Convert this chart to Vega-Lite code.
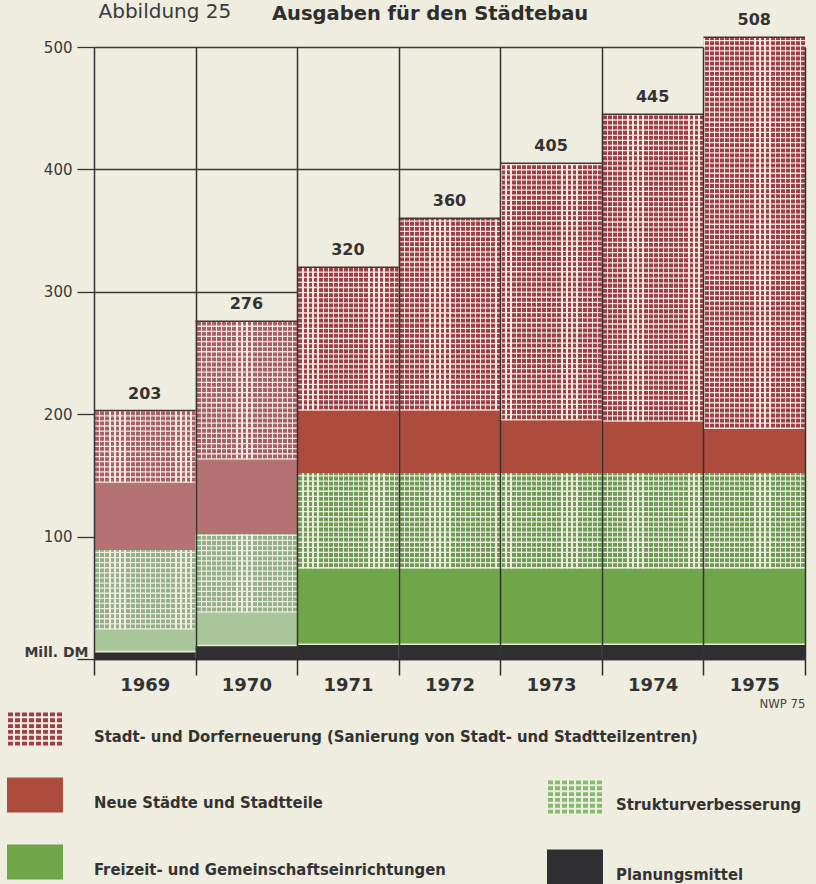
{
"$schema": "https://vega.github.io/schema/vega-lite/v6.json",
"width": 711, "height": 612,
"autosize": {"type": "none"},
"padding": {"left": 94, "top": 47, "right": 11, "bottom": 225},
"background": "#eeede0",
"config": {"view": {"stroke": null}, "font": "DejaVu Sans"},
"title": {"text": "Ausgaben für den Städtebau", "anchor": "start", "frame": "group", "dx": 178, "offset": -38, "font": "DejaVu Sans", "fontSize": 19.5, "fontWeight": "bold", "color": "#2e2e2e"},
"data": {"values": [
{"year": 1969, "cat": "Planungsmittel", "value": 6},
{"year": 1969, "cat": "Freizeit- und Gemeinschaftseinrichtungen", "value": 18},
{"year": 1969, "cat": "Strukturverbesserung", "value": 65},
{"year": 1969, "cat": "Neue Städte und Stadtteile", "value": 55},
{"year": 1969, "cat": "Stadt- und Dorferneuerung (Sanierung von Stadt- und Stadtteilzentren)", "value": 59},
{"year": 1970, "cat": "Planungsmittel", "value": 11},
{"year": 1970, "cat": "Freizeit- und Gemeinschaftseinrichtungen", "value": 27},
{"year": 1970, "cat": "Strukturverbesserung", "value": 64},
{"year": 1970, "cat": "Neue Städte und Stadtteile", "value": 61},
{"year": 1970, "cat": "Stadt- und Dorferneuerung (Sanierung von Stadt- und Stadtteilzentren)", "value": 113},
{"year": 1971, "cat": "Planungsmittel", "value": 12},
{"year": 1971, "cat": "Freizeit- und Gemeinschaftseinrichtungen", "value": 62},
{"year": 1971, "cat": "Strukturverbesserung", "value": 78},
{"year": 1971, "cat": "Neue Städte und Stadtteile", "value": 51},
{"year": 1971, "cat": "Stadt- und Dorferneuerung (Sanierung von Stadt- und Stadtteilzentren)", "value": 117},
{"year": 1972, "cat": "Planungsmittel", "value": 12},
{"year": 1972, "cat": "Freizeit- und Gemeinschaftseinrichtungen", "value": 62},
{"year": 1972, "cat": "Strukturverbesserung", "value": 78},
{"year": 1972, "cat": "Neue Städte und Stadtteile", "value": 51},
{"year": 1972, "cat": "Stadt- und Dorferneuerung (Sanierung von Stadt- und Stadtteilzentren)", "value": 157},
{"year": 1973, "cat": "Planungsmittel", "value": 12},
{"year": 1973, "cat": "Freizeit- und Gemeinschaftseinrichtungen", "value": 62},
{"year": 1973, "cat": "Strukturverbesserung", "value": 78},
{"year": 1973, "cat": "Neue Städte und Stadtteile", "value": 43},
{"year": 1973, "cat": "Stadt- und Dorferneuerung (Sanierung von Stadt- und Stadtteilzentren)", "value": 210},
{"year": 1974, "cat": "Planungsmittel", "value": 12},
{"year": 1974, "cat": "Freizeit- und Gemeinschaftseinrichtungen", "value": 62},
{"year": 1974, "cat": "Strukturverbesserung", "value": 78},
{"year": 1974, "cat": "Neue Städte und Stadtteile", "value": 42},
{"year": 1974, "cat": "Stadt- und Dorferneuerung (Sanierung von Stadt- und Stadtteilzentren)", "value": 251},
{"year": 1975, "cat": "Planungsmittel", "value": 12},
{"year": 1975, "cat": "Freizeit- und Gemeinschaftseinrichtungen", "value": 62},
{"year": 1975, "cat": "Strukturverbesserung", "value": 78},
{"year": 1975, "cat": "Neue Städte und Stadtteile", "value": 36},
{"year": 1975, "cat": "Stadt- und Dorferneuerung (Sanierung von Stadt- und Stadtteilzentren)", "value": 320}
]},
"transform": [
{"calculate": "indexof(['Planungsmittel','Freizeit- und Gemeinschaftseinrichtungen','Strukturverbesserung','Neue Städte und Stadtteile','Stadt- und Dorferneuerung (Sanierung von Stadt- und Stadtteilzentren)'], datum.cat)", "as": "order"},
{"stack": "value", "groupby": ["year"], "sort": [{"field": "order", "order": "ascending"}], "as": ["y0", "y1"]}
],
"encoding": {
"x": {"field": "year", "type": "ordinal", "scale": {"paddingInner": 0, "paddingOuter": 0},
 "axis": {"title": "NWP 75", "titleAnchor": "end", "titleAlign": "right", "titleFont": "DejaVu Sans Condensed, Liberation Sans, sans-serif", "titleFontSize": 13, "titleFontWeight": "normal", "titleColor": "#444444", "titlePadding": 3,
 "labelFont": "DejaVu Sans", "labelFontSize": 18, "labelFontWeight": "bold", "labelColor": "#333333", "labelAngle": 0, "labelPadding": 1, "labelOverlap": false,
 "tickBand": "extent", "tickSize": 16, "tickColor": "#2e2e2e", "tickWidth": 1.5,
 "grid": true, "gridColor": "#333333", "gridWidth": 1.5,
 "domain": true, "domainColor": "#2e2e30", "domainWidth": 1.5, "zindex": 1}},
"y": {"field": "y0", "type": "quantitative", "title": "Abbildung 25", "scale": {"domain": [0, 500], "nice": false},
   "axis": {"titleAngle": 0, "titleAlign": "left", "titleBaseline": "alphabetic", "titleX": 4, "titleY": -30,
    "titleFont": "DejaVu Sans", "titleFontSize": 20, "titleFontWeight": "normal", "titleColor": "#3a3a3a",
    "values": [0, 100, 200, 300, 400, 500],
    "labelExpr": "datum.value === 0 ? 'Mill. DM' : datum.label",
    "labelFont": "DejaVu Sans",
    "labelFontSize": {"condition": {"test": "datum.value === 0", "value": 14}, "value": 15},
    "labelFontWeight": {"condition": {"test": "datum.value === 0", "value": "bold"}, "value": "normal"},
    "labelBaseline": {"condition": {"test": "datum.value === 0", "value": "alphabetic"}, "value": "middle"},
    "labelPadding": {"condition": {"test": "datum.value === 0", "value": -11}, "value": 5},
    "labelOffset": {"condition": {"test": "datum.value === 0", "value": -3}, "value": 0},
    "labelColor": "#3a3a3a", "labelOverlap": false,
    "tickSize": 17, "tickColor": "#333333", "tickWidth": 1.3,
    "domain": false, "grid": true, "gridColor": "#3a3a3a", "gridWidth": 1.3, "zindex": 0}},
"y2": {"field": "y1"}
},
"layer": [
{
 "transform": [{"filter": {"field": "cat", "oneOf": ["Stadt- und Dorferneuerung (Sanierung von Stadt- und Stadtteilzentren)", "Neue Städte und Stadtteile", "Freizeit- und Gemeinschaftseinrichtungen"]}}],
 "mark": {"type": "bar"},
 "encoding": {
  "fill": {
   "condition": [
    {"test": "datum.year < 1971 && datum.cat === 'Neue Städte und Stadtteile'", "value": "#b57273"},
    {"test": "datum.year < 1971 && datum.cat === 'Freizeit- und Gemeinschaftseinrichtungen'", "value": "#a9c69b"},
    {"test": "datum.year < 1971 && datum.cat === 'Stadt- und Dorferneuerung (Sanierung von Stadt- und Stadtteilzentren)'", "value": "#a5606a"}
   ],
   "field": "cat", "type": "nominal",
   "scale": {"domain": ["Stadt- und Dorferneuerung (Sanierung von Stadt- und Stadtteilzentren)", "Neue Städte und Stadtteile", "Freizeit- und Gemeinschaftseinrichtungen"], "range": ["#9c3f47", "#ad4b3d", "#6fa64a"]},
   "legend": {"orient": "none", "legendX": -87, "legendY": 654, "title": null, "direction": "vertical",
    "symbolType": "M-1,-0.625H1V0.625H-1Z", "symbolSize": 3136, "symbolStrokeWidth": 0, "symbolOpacity": 1,
    "labelFont": "DejaVu Sans Condensed, Liberation Sans, sans-serif", "labelFontSize": 16.5, "labelFontWeight": "bold", "labelColor": "#333333",
    "labelLimit": 0, "labelOffset": 31, "labelBaseline": "top", "rowPadding": 21,
    "encode": {"symbols": {"update": {"shape": [
     {"test": "datum.value === 'Stadt- und Dorferneuerung (Sanierung von Stadt- und Stadtteilzentren)'", "value": "M-0.965,-0.591h0.18v0.14h-0.18zm0.25,0h0.18v0.14h-0.18zm0.25,0h0.18v0.14h-0.18zm0.25,0h0.18v0.14h-0.18zm0.25,0h0.18v0.14h-0.18zm0.25,0h0.18v0.14h-0.18zm0.25,0h0.18v0.14h-0.18zm0.25,0h0.18v0.14h-0.18zM-0.965,-0.383h0.18v0.14h-0.18zm0.25,0h0.18v0.14h-0.18zm0.25,0h0.18v0.14h-0.18zm0.25,0h0.18v0.14h-0.18zm0.25,0h0.18v0.14h-0.18zm0.25,0h0.18v0.14h-0.18zm0.25,0h0.18v0.14h-0.18zm0.25,0h0.18v0.14h-0.18zM-0.965,-0.174h0.18v0.14h-0.18zm0.25,0h0.18v0.14h-0.18zm0.25,0h0.18v0.14h-0.18zm0.25,0h0.18v0.14h-0.18zm0.25,0h0.18v0.14h-0.18zm0.25,0h0.18v0.14h-0.18zm0.25,0h0.18v0.14h-0.18zm0.25,0h0.18v0.14h-0.18zM-0.965,0.034h0.18v0.14h-0.18zm0.25,0h0.18v0.14h-0.18zm0.25,0h0.18v0.14h-0.18zm0.25,0h0.18v0.14h-0.18zm0.25,0h0.18v0.14h-0.18zm0.25,0h0.18v0.14h-0.18zm0.25,0h0.18v0.14h-0.18zm0.25,0h0.18v0.14h-0.18zM-0.965,0.243h0.18v0.14h-0.18zm0.25,0h0.18v0.14h-0.18zm0.25,0h0.18v0.14h-0.18zm0.25,0h0.18v0.14h-0.18zm0.25,0h0.18v0.14h-0.18zm0.25,0h0.18v0.14h-0.18zm0.25,0h0.18v0.14h-0.18zm0.25,0h0.18v0.14h-0.18zM-0.965,0.451h0.18v0.14h-0.18zm0.25,0h0.18v0.14h-0.18zm0.25,0h0.18v0.14h-0.18zm0.25,0h0.18v0.14h-0.18zm0.25,0h0.18v0.14h-0.18zm0.25,0h0.18v0.14h-0.18zm0.25,0h0.18v0.14h-0.18zm0.25,0h0.18v0.14h-0.18z"},
     {"value": "M-1,-0.625H1V0.625H-1Z"}]}}}}
  }
 }
},
{
 "transform": [{"filter": {"field": "cat", "oneOf": ["Strukturverbesserung", "Planungsmittel"]}}],
 "mark": {"type": "bar"},
 "encoding": {
  "color": {
   "condition": [
    {"test": "datum.year < 1971 && datum.cat === 'Strukturverbesserung'", "value": "#93b08a"},
    {"test": "datum.cat === 'Strukturverbesserung'", "value": "#6e9c58"}
   ],
   "field": "cat", "type": "nominal",
   "scale": {"domain": ["Strukturverbesserung", "Planungsmittel"], "range": ["#86ba70", "#2f2f31"]},
   "legend": {"orient": "none", "legendX": 453, "legendY": 722, "title": null, "direction": "vertical",
    "symbolType": "M-1,-0.625H1V0.625H-1Z", "symbolSize": 3136, "symbolStrokeWidth": 0, "symbolOpacity": 1,
    "labelFont": "DejaVu Sans Condensed, Liberation Sans, sans-serif", "labelFontSize": 16.5, "labelFontWeight": "bold", "labelColor": "#333333",
    "labelLimit": 0, "labelOffset": 13, "labelBaseline": "top", "rowPadding": 25,
    "encode": {"symbols": {"update": {"shape": [
     {"test": "datum.value === 'Strukturverbesserung'", "value": "M-0.965,-0.591h0.18v0.14h-0.18zm0.25,0h0.18v0.14h-0.18zm0.25,0h0.18v0.14h-0.18zm0.25,0h0.18v0.14h-0.18zm0.25,0h0.18v0.14h-0.18zm0.25,0h0.18v0.14h-0.18zm0.25,0h0.18v0.14h-0.18zm0.25,0h0.18v0.14h-0.18zM-0.965,-0.383h0.18v0.14h-0.18zm0.25,0h0.18v0.14h-0.18zm0.25,0h0.18v0.14h-0.18zm0.25,0h0.18v0.14h-0.18zm0.25,0h0.18v0.14h-0.18zm0.25,0h0.18v0.14h-0.18zm0.25,0h0.18v0.14h-0.18zm0.25,0h0.18v0.14h-0.18zM-0.965,-0.174h0.18v0.14h-0.18zm0.25,0h0.18v0.14h-0.18zm0.25,0h0.18v0.14h-0.18zm0.25,0h0.18v0.14h-0.18zm0.25,0h0.18v0.14h-0.18zm0.25,0h0.18v0.14h-0.18zm0.25,0h0.18v0.14h-0.18zm0.25,0h0.18v0.14h-0.18zM-0.965,0.034h0.18v0.14h-0.18zm0.25,0h0.18v0.14h-0.18zm0.25,0h0.18v0.14h-0.18zm0.25,0h0.18v0.14h-0.18zm0.25,0h0.18v0.14h-0.18zm0.25,0h0.18v0.14h-0.18zm0.25,0h0.18v0.14h-0.18zm0.25,0h0.18v0.14h-0.18zM-0.965,0.243h0.18v0.14h-0.18zm0.25,0h0.18v0.14h-0.18zm0.25,0h0.18v0.14h-0.18zm0.25,0h0.18v0.14h-0.18zm0.25,0h0.18v0.14h-0.18zm0.25,0h0.18v0.14h-0.18zm0.25,0h0.18v0.14h-0.18zm0.25,0h0.18v0.14h-0.18zM-0.965,0.451h0.18v0.14h-0.18zm0.25,0h0.18v0.14h-0.18zm0.25,0h0.18v0.14h-0.18zm0.25,0h0.18v0.14h-0.18zm0.25,0h0.18v0.14h-0.18zm0.25,0h0.18v0.14h-0.18zm0.25,0h0.18v0.14h-0.18zm0.25,0h0.18v0.14h-0.18z"},
     {"value": "M-1,-0.625H1V0.625H-1Z"}]}}}}
  }
 }
},
{
 "transform": [{"filter": {"field": "cat", "oneOf": ["Stadt- und Dorferneuerung (Sanierung von Stadt- und Stadtteilzentren)", "Strukturverbesserung"]}}],
 "mark": {"type": "rule", "strokeWidth": 101.5, "strokeDash": [1.3, 3.8], "strokeCap": "butt"},
 "encoding": {
  "stroke": {"condition": {"test": "datum.cat === 'Strukturverbesserung'", "value": "#e9f0da"}, "value": "#f3e4dc"}
 }
},
{
 "transform": [{"filter": {"field": "cat", "oneOf": ["Stadt- und Dorferneuerung (Sanierung von Stadt- und Stadtteilzentren)", "Strukturverbesserung"]}}],
 "mark": {"type": "bar", "fill": {"gradient": "linear", "x1": 0, "y1": 0, "x2": 1, "y2": 0, "stops": [
{"offset":0,"color":"#f2eadf"},{"offset":0.013,"color":"#f2eadf"},{"offset":0.013,"color":"rgba(242,234,223,0)"},{"offset":0.05,"color":"rgba(242,234,223,0)"},
{"offset":0.05,"color":"#f2eadf"},{"offset":0.063,"color":"#f2eadf"},{"offset":0.063,"color":"rgba(242,234,223,0)"},{"offset":0.1,"color":"rgba(242,234,223,0)"},
{"offset":0.1,"color":"#f2eadf"},{"offset":0.113,"color":"#f2eadf"},{"offset":0.113,"color":"rgba(242,234,223,0)"},{"offset":0.15,"color":"rgba(242,234,223,0)"},
{"offset":0.15,"color":"#f2eadf"},{"offset":0.163,"color":"#f2eadf"},{"offset":0.163,"color":"rgba(242,234,223,0)"},{"offset":0.2,"color":"rgba(242,234,223,0)"},
{"offset":0.2,"color":"#f2eadf"},{"offset":0.213,"color":"#f2eadf"},{"offset":0.213,"color":"rgba(242,234,223,0)"},{"offset":0.25,"color":"rgba(242,234,223,0)"},
{"offset":0.25,"color":"#f2eadf"},{"offset":0.263,"color":"#f2eadf"},{"offset":0.263,"color":"rgba(242,234,223,0)"},{"offset":0.3,"color":"rgba(242,234,223,0)"},
{"offset":0.3,"color":"#f2eadf"},{"offset":0.313,"color":"#f2eadf"},{"offset":0.313,"color":"rgba(242,234,223,0)"},{"offset":0.35,"color":"rgba(242,234,223,0)"},
{"offset":0.35,"color":"#f2eadf"},{"offset":0.363,"color":"#f2eadf"},{"offset":0.363,"color":"rgba(242,234,223,0)"},{"offset":0.4,"color":"rgba(242,234,223,0)"},
{"offset":0.4,"color":"#f2eadf"},{"offset":0.413,"color":"#f2eadf"},{"offset":0.413,"color":"rgba(242,234,223,0)"},{"offset":0.45,"color":"rgba(242,234,223,0)"},
{"offset":0.45,"color":"#f2eadf"},{"offset":0.463,"color":"#f2eadf"},{"offset":0.463,"color":"rgba(242,234,223,0)"},{"offset":0.5,"color":"rgba(242,234,223,0)"},
{"offset":0.5,"color":"#f2eadf"},{"offset":0.513,"color":"#f2eadf"},{"offset":0.513,"color":"rgba(242,234,223,0)"},{"offset":0.55,"color":"rgba(242,234,223,0)"},
{"offset":0.55,"color":"#f2eadf"},{"offset":0.563,"color":"#f2eadf"},{"offset":0.563,"color":"rgba(242,234,223,0)"},{"offset":0.6,"color":"rgba(242,234,223,0)"},
{"offset":0.6,"color":"#f2eadf"},{"offset":0.613,"color":"#f2eadf"},{"offset":0.613,"color":"rgba(242,234,223,0)"},{"offset":0.65,"color":"rgba(242,234,223,0)"},
{"offset":0.65,"color":"#f2eadf"},{"offset":0.663,"color":"#f2eadf"},{"offset":0.663,"color":"rgba(242,234,223,0)"},{"offset":0.7,"color":"rgba(242,234,223,0)"},
{"offset":0.7,"color":"#f2eadf"},{"offset":0.713,"color":"#f2eadf"},{"offset":0.713,"color":"rgba(242,234,223,0)"},{"offset":0.75,"color":"rgba(242,234,223,0)"},
{"offset":0.75,"color":"#f2eadf"},{"offset":0.763,"color":"#f2eadf"},{"offset":0.763,"color":"rgba(242,234,223,0)"},{"offset":0.8,"color":"rgba(242,234,223,0)"},
{"offset":0.8,"color":"#f2eadf"},{"offset":0.813,"color":"#f2eadf"},{"offset":0.813,"color":"rgba(242,234,223,0)"},{"offset":0.85,"color":"rgba(242,234,223,0)"},
{"offset":0.85,"color":"#f2eadf"},{"offset":0.863,"color":"#f2eadf"},{"offset":0.863,"color":"rgba(242,234,223,0)"},{"offset":0.9,"color":"rgba(242,234,223,0)"},
{"offset":0.9,"color":"#f2eadf"},{"offset":0.913,"color":"#f2eadf"},{"offset":0.913,"color":"rgba(242,234,223,0)"},{"offset":0.95,"color":"rgba(242,234,223,0)"},
{"offset":0.95,"color":"#f2eadf"},{"offset":0.963,"color":"#f2eadf"},{"offset":0.963,"color":"rgba(242,234,223,0)"},{"offset":1,"color":"rgba(242,234,223,0)"}
 ]}}
},
{
 "transform": [{"filter": {"field": "cat", "oneOf": ["Stadt- und Dorferneuerung (Sanierung von Stadt- und Stadtteilzentren)", "Planungsmittel"]}}],
 "mark": {"type": "bar", "fill": "transparent", "strokeWidth": 1.6},
 "encoding": {
  "y": {"field": "y1", "type": "quantitative", "title": "Abbildung 25", "scale": {"domain": [0, 500], "nice": false}},
  "y2": {"field": "y1"},
  "stroke": {"condition": {"test": "datum.cat === 'Planungsmittel'", "value": "#ebe8d8"}, "value": "#4a3436"}
 }
},
{
 "transform": [{"filter": {"field": "cat", "equal": "Stadt- und Dorferneuerung (Sanierung von Stadt- und Stadtteilzentren)"}}],
 "mark": {"type": "text", "dy": -17, "baseline": "middle", "font": "DejaVu Sans", "fontSize": 16, "fontWeight": "bold", "color": "#333333"},
 "encoding": {
  "y": {"field": "y1", "type": "quantitative", "title": "Abbildung 25", "scale": {"domain": [0, 500], "nice": false}},
  "text": {"field": "y1", "type": "quantitative", "format": "d"}
 }
}
]
}
